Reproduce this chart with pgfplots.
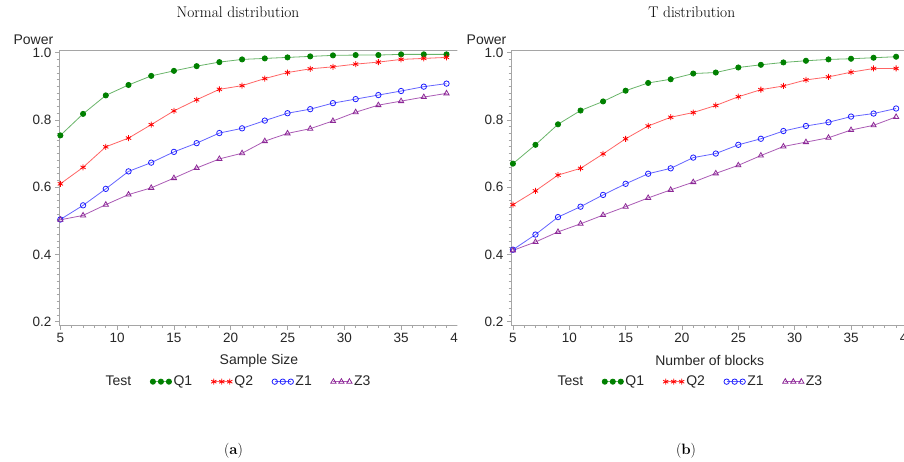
\documentclass[border=0pt]{standalone}
\usepackage{fontspec}
\usepackage{pgfplots}
\usepackage{pgfplotstable}
\pgfplotsset{compat=1.18}
\newfontfamily\arial{Liberation Sans}
\definecolor{qone}{RGB}{0,128,0}
\definecolor{qonel}{RGB}{105,180,105}
\definecolor{qtwo}{RGB}{255,0,0}
\definecolor{qtwol}{RGB}{255,100,100}
\definecolor{zone}{RGB}{30,30,255}
\definecolor{zonel}{RGB}{100,100,255}
\definecolor{zthree}{RGB}{140,40,150}
\definecolor{zthreel}{RGB}{170,90,180}
\definecolor{axgray}{RGB}{165,165,165}

\pgfplotstableread{
n Q1 Q2 Z1 Z3
5 0.754 0.610 0.504 0.503
7 0.818 0.659 0.546 0.516
9 0.873 0.720 0.595 0.548
11 0.904 0.746 0.647 0.578
13 0.931 0.786 0.673 0.598
15 0.946 0.827 0.705 0.627
17 0.960 0.860 0.731 0.657
19 0.972 0.891 0.761 0.684
21 0.980 0.902 0.775 0.701
23 0.983 0.923 0.798 0.737
25 0.986 0.941 0.820 0.760
27 0.989 0.952 0.832 0.774
29 0.992 0.958 0.850 0.797
31 0.993 0.966 0.862 0.823
33 0.993 0.972 0.874 0.844
35 0.995 0.980 0.886 0.856
37 0.995 0.983 0.899 0.868
39 0.995 0.986 0.908 0.879
}\normaltab

\pgfplotstableread{
n Q1 Q2 Z1 Z3
5 0.670 0.548 0.414 0.412
7 0.726 0.589 0.459 0.437
9 0.787 0.636 0.511 0.467
11 0.828 0.656 0.542 0.491
13 0.855 0.699 0.577 0.517
15 0.887 0.744 0.610 0.542
17 0.910 0.782 0.640 0.568
19 0.921 0.808 0.656 0.592
21 0.938 0.822 0.688 0.615
23 0.941 0.843 0.700 0.641
25 0.956 0.869 0.726 0.665
27 0.964 0.890 0.744 0.694
29 0.971 0.901 0.767 0.721
31 0.976 0.919 0.782 0.734
33 0.980 0.928 0.793 0.747
35 0.982 0.942 0.810 0.770
37 0.985 0.953 0.819 0.784
39 0.988 0.953 0.834 0.809
}\ttab

\pgfplotsset{
  powerstyle/.style={
    scale only axis, height=275.7pt,
    xmax=40.1, ymin=0.188, ymax=1.008,
    axis x line*=bottom, axis y line*=left,
    axis line style={axgray, line width=0.9pt, -},
    xtick={5,10,...,40}, minor x tick num=4,
    ytick={0.2,0.4,0.6,0.8,1.0}, minor y tick num=9,
    tick align=outside, tick style={axgray, line width=0.7pt},
    major tick length=4pt, minor tick length=2.5pt,
    /pgf/number format/assume math mode=true,
    ticklabel style={font=\arial\fontsize{13.5}{15}\selectfont, text=black!85},
    yticklabel style={/pgf/number format/fixed, /pgf/number format/precision=1, /pgf/number format/fixed zerofill},
    label style={font=\arial\fontsize{14}{16}\selectfont, text=black!85},
    ylabel=Power,
    xlabel style={at={(axis description cs:0.5,-0.128)}, anchor=center},
    legend columns=-1,
    legend style={draw=none, fill=none, font=\arial\fontsize{14}{16}\selectfont, text=black!85,
      anchor=center, /tikz/every even column/.append style={column sep=17pt},
      legend cell align=left},
    legend image code/.code={\draw[mark repeat=1,mark phase=1] plot coordinates {(0pt,0pt) (8pt,0pt) (16pt,0pt)};},
    every axis plot/.append style={line width=0.8pt},
  },
  sQone/.style={color=qonel, mark=*, mark size=2.6pt, mark options={qone, fill=qone, solid}},
  sQtwo/.style={color=qtwol, mark=asterisk, mark size=3pt, mark options={qtwo, line width=0.8pt}},
  sZone/.style={color=zonel, mark=o, mark size=2.7pt, mark options={zone, line width=0.8pt}},
  sZthree/.style={color=zthreel, mark=triangle, mark size=3pt, mark options={zthree, line width=0.8pt}},
}

\begin{document}
\begin{tikzpicture}
\useasboundingbox (0,0) rectangle (904pt,-462pt);

\begin{scope}
\clip (0,0) rectangle (457.4pt,-462pt);
\begin{axis}[powerstyle, width=400pt, xmin=4.88,
  at={(59pt,-325.7pt)}, anchor=south west,
  xlabel={Sample Size},
  ylabel style={rotate=-90, at={(axis description cs:-0.064,1.036)}, anchor=center},
  legend style={at={(0.4475,-0.203)}}]
\addlegendimage{empty legend}\addlegendentry{Test}
\addplot[sQone] table[x=n,y=Q1] {\normaltab};\addlegendentry{Q1}
\addplot[sQtwo] table[x=n,y=Q2] {\normaltab};\addlegendentry{Q2}
\addplot[sZone] table[x=n,y=Z1] {\normaltab};\addlegendentry{Z1}
\addplot[sZthree] table[x=n,y=Z3] {\normaltab};\addlegendentry{Z3}
\draw[axgray, line width=0.9pt] (rel axis cs:0,1) -- (rel axis cs:1,1);
\end{axis}
\end{scope}

\begin{axis}[powerstyle, width=397.5pt, xmin=4.83,
  at={(511pt,-325.7pt)}, anchor=south west,
  xlabel={Number of blocks},
  ylabel style={rotate=-90, at={(axis description cs:-0.0616,1.036)}, anchor=center},
  legend style={at={(0.45,-0.203)}}]
\addlegendimage{empty legend}\addlegendentry{Test}
\addplot[sQone] table[x=n,y=Q1] {\ttab};\addlegendentry{Q1}
\addplot[sQtwo] table[x=n,y=Q2] {\ttab};\addlegendentry{Q2}
\addplot[sZone] table[x=n,y=Z1] {\ttab};\addlegendentry{Z1}
\addplot[sZthree] table[x=n,y=Z3] {\ttab};\addlegendentry{Z3}
\draw[axgray, line width=0.9pt] (rel axis cs:0,1) -- (rel axis cs:1,1);
\end{axis}

\node[anchor=base] at (238pt,-17.3pt) {\fontsize{15.4}{18}\selectfont Normal distribution};
\node[anchor=base] at (691.7pt,-17.3pt) {\fontsize{15.4}{18}\selectfont T distribution};
\node[anchor=base] at (233.5pt,-454pt) {\fontsize{15}{18}\selectfont (\textbf{a})};
\node[anchor=base] at (686pt,-454pt) {\fontsize{15}{18}\selectfont (\textbf{b})};
\end{tikzpicture}
\end{document}
